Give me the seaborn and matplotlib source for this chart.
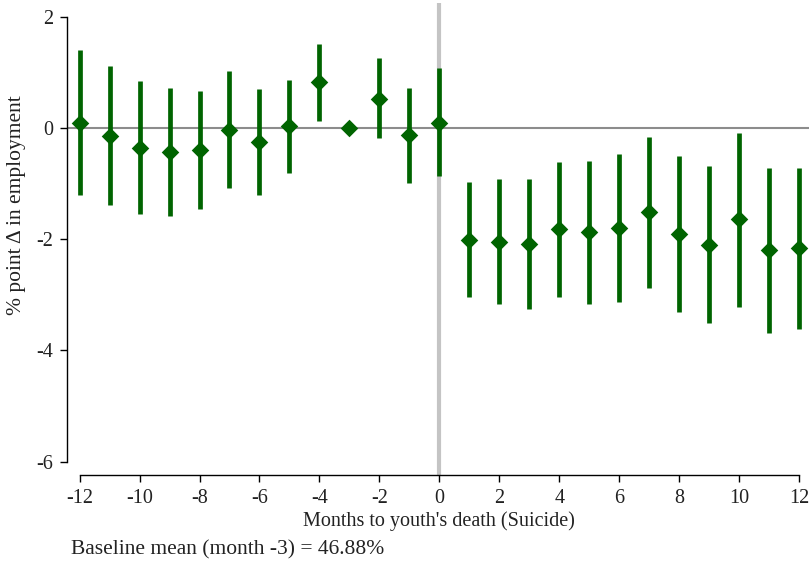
import numpy as np
import pandas as pd
import matplotlib
matplotlib.use("Agg")
import matplotlib.pyplot as plt
import seaborn as sns

months = [-12, -11, -10, -9, -8, -7, -6, -5, -4, -3, -2, -1, 0,
          1, 2, 3, 4, 5, 6, 7, 8, 9, 10, 11, 12]
estimate = [0.10, -0.15, -0.35, -0.43, -0.40, -0.03, -0.25, 0.03, 0.83, 0.00, 0.53, -0.12, 0.10,
            -2.01, -2.04, -2.08, -1.82, -1.87, -1.80, -1.51, -1.90, -2.10, -1.64, -2.20, -2.16]
ci_low = [-1.21, -1.39, -1.55, -1.58, -1.46, -1.08, -1.21, -0.80, 0.13, 0.00, -0.18, -0.98, -0.87,
          -3.04, -3.16, -3.25, -3.04, -3.16, -3.13, -2.87, -3.30, -3.51, -3.21, -3.68, -3.62]
ci_high = [1.41, 1.11, 0.84, 0.73, 0.67, 1.02, 0.71, 0.87, 1.52, 0.00, 1.26, 0.72, 1.08,
           -0.97, -0.91, -0.91, -0.61, -0.59, -0.47, -0.16, -0.50, -0.69, -0.08, -0.72, -0.72]
x_ticks = list(range(-12, 13, 2))
y_ticks = [-6, -4, -2, 0, 2]

df = pd.DataFrame({"month": months, "est": estimate, "lo": ci_low, "hi": ci_high})

sns.set_style("white")
plt.rcParams["font.family"] = ["Liberation Serif", "DejaVu Serif"]

W, H = 809, 567
fig = plt.figure(figsize=(W / 100, H / 100), dpi=100)
ax = fig.add_axes([66.7 / W, 1 - 475 / H, (809 - 66.7) / W, (475 - 3) / H])

green = "#006400"
ax.axvline(0, color="#c4c4c4", lw=3.0, zorder=1)
ax.axhline(0, color="#8c8c8c", lw=1.5, zorder=1)

ci = df[df["month"] != -3]
ax.vlines(ci["month"], ci["lo"], ci["hi"], color=green, lw=3.4, zorder=2)
sns.scatterplot(data=df, x="month", y="est", marker="D", s=80, color=green,
                edgecolor=green, linewidth=0, ax=ax, zorder=3)

ax.set_xlim(-12.43, 12.33)
ax.set_ylim(-6.24, 2.25)
ax.set_xticks(x_ticks)
ax.set_xticklabels([str(t) for t in x_ticks])
ax.set_yticks(y_ticks)
ax.set_yticklabels([str(t) for t in y_ticks])

for s in ["top", "right"]:
    ax.spines[s].set_visible(False)
ax.spines["left"].set_bounds(-6, 2)
ax.spines["bottom"].set_bounds(-12, 12)
for s in ["left", "bottom"]:
    ax.spines[s].set_color("black")
    ax.spines[s].set_linewidth(1.0)

ax.tick_params(axis="both", which="major", direction="out", length=5, width=1,
               color="black", labelsize=14.5, labelcolor="#222222", pad=5, left=True, bottom=True)
ax.set_xlabel("")
ax.set_ylabel("")
ax.grid(False)

fig.text(439 / W, 1 - 521 / H, "Months to youth's death (Suicide)", ha="center", va="center",
         fontsize=14.5, color="#222222")
fig.text(17 / W, 1 - 205 / H, "% point \u0394 in employment", ha="center", va="center",
         rotation=90, fontsize=15.5, color="#222222")
fig.text(71 / W, 1 - 550 / H, "Baseline mean (month -3) = 46.88%", ha="left", va="center",
         fontsize=15.5, color="#222222")

fig.savefig("out.png", dpi=100)
